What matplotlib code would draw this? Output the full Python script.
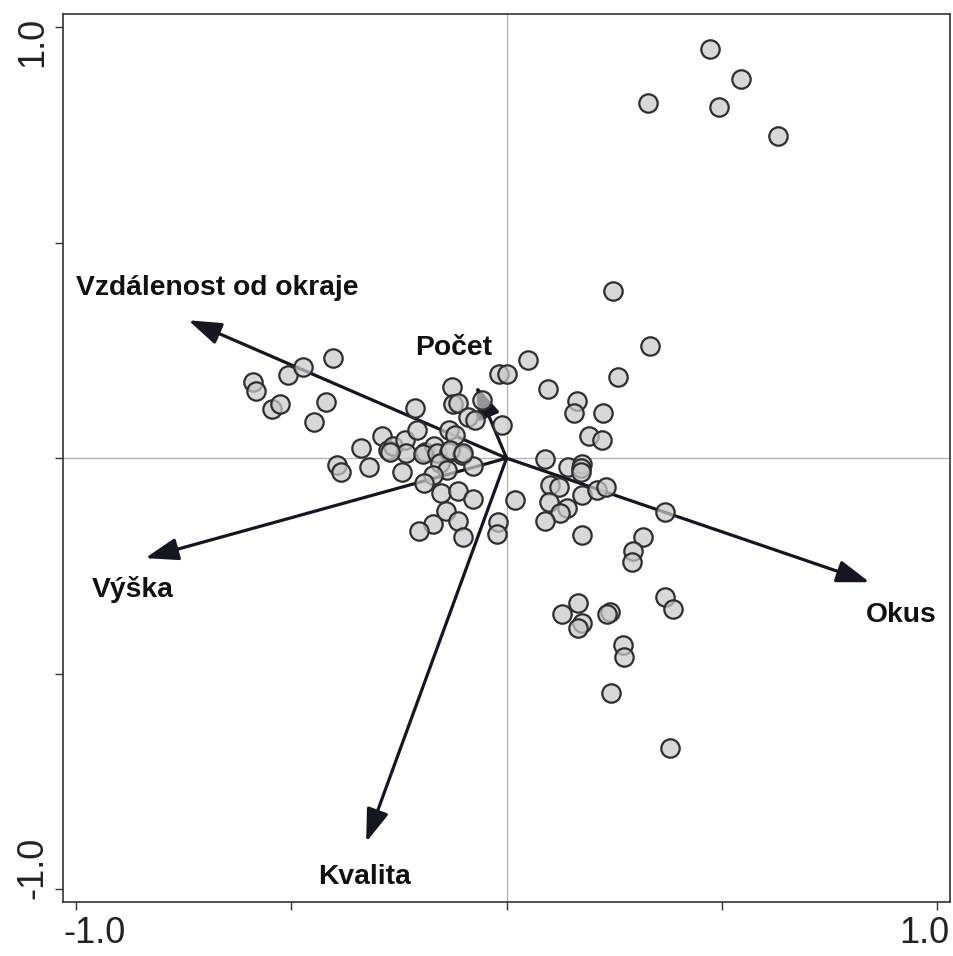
import matplotlib
matplotlib.use("Agg")
import matplotlib.pyplot as plt
from matplotlib.transforms import ScaledTranslation

# ---- data -------------------------------------------------------------
site_x = [-0.403, -0.588, -0.581, -0.507, -0.472, -0.544, -0.526, -0.419, -0.447, -0.393,
          -0.384, -0.319, -0.338, -0.289, -0.275, -0.263, -0.236, -0.233, -0.242, -0.212,
          -0.208, -0.189, -0.168, -0.194, -0.161, -0.133, -0.103, -0.154, -0.138, -0.078,
          -0.171, -0.191, -0.152, -0.113, -0.078, -0.140, -0.171, -0.203, -0.113, -0.101,
          -0.020, -0.022, -0.126, -0.124, -0.113, -0.057, -0.089, -0.073, -0.010, -0.133,
          -0.119, -0.131, -0.101, -0.270, -0.017, 0.001, 0.050, 0.020, 0.096, 0.164,
          0.157, 0.224, 0.191, 0.222, 0.089, 0.143, 0.175, 0.173, 0.173, 0.101,
          0.122, 0.175, 0.210, 0.231, 0.099, 0.140, 0.124, 0.089, 0.175, 0.368,
          0.317, 0.294, 0.291, 0.259, 0.333, 0.247, 0.166, 0.129, 0.175, 0.166,
          0.240, 0.233, 0.368, 0.386, 0.270, 0.273, 0.242, 0.379, 0.472, 0.544,
          0.328, 0.493, 0.630]
site_y = [0.232, 0.176, 0.155, 0.193, 0.211, 0.114, 0.125, 0.130, 0.084, -0.016,
          -0.032, -0.021, 0.023, 0.051, 0.019, 0.028, 0.042, 0.012, -0.032, 0.116,
          0.065, 0.014, 0.028, 0.009, 0.012, 0.014, 0.007, -0.012, -0.028, -0.019,
          -0.039, -0.058, -0.081, -0.077, -0.095, -0.123, -0.153, -0.169, -0.146, -0.183,
          -0.148, -0.176, 0.165, 0.125, 0.128, 0.135, 0.095, 0.088, 0.077, 0.065,
          0.053, 0.019, 0.012, 0.014, 0.195, 0.195, 0.227, -0.097, 0.160, 0.132,
          0.104, 0.104, 0.051, 0.042, -0.002, -0.021, -0.014, -0.023, -0.032, -0.063,
          -0.067, -0.086, -0.074, -0.067, -0.102, -0.116, -0.128, -0.146, -0.179, -0.125,
          -0.183, -0.216, -0.241, 0.188, 0.260, 0.387, -0.336, -0.362, -0.383, -0.394,
          -0.357, -0.362, -0.323, -0.350, -0.434, -0.462, -0.545, -0.673, 0.949, 0.879,
          0.824, 0.814, 0.747]

var_names = ["Vzdálenost od okraje", "Počet", "Výška", "Okus", "Kvalita"]
var_x = [-0.739, -0.071, -0.839, 0.843, -0.326]
var_y = [0.320, 0.169, -0.232, -0.288, -0.891]
label_x = [-0.999, -0.124, -0.962, 0.834, -0.437]
label_y = [0.378, 0.239, -0.322, -0.381, -0.988]
label_ha = ["left", "center", "left", "left", "left"]

ticks = [-1.0, -0.5, 0.0, 0.5, 1.0]
tick_labels = ["-1.0", "", "", "", "1.0"]

# ---- figure -----------------------------------------------------------
plt.rcParams['font.family'] = ['Liberation Sans', 'DejaVu Sans']
fig = plt.figure(figsize=(9.54, 9.56), dpi=100)
ax = fig.add_axes([0.066, 0.0565, 0.930, 0.9285])
ax.set_xlim(-1.03, 1.03)
ax.set_ylim(-1.03, 1.03)

ax.axhline(0, color='#b0b0b0', lw=0.9, zorder=1)
ax.axvline(0, color='#b0b0b0', lw=0.9, zorder=1)

arrow_col = '#15161f'
for vx, vy in zip(var_x, var_y):
    ax.annotate('', xy=(vx, vy), xytext=(0, 0),
                arrowprops=dict(arrowstyle='-|>,head_length=0.5,head_width=0.17',
                                lw=2.3, color=arrow_col, shrinkA=0, shrinkB=0,
                                mutation_scale=40),
                zorder=2)

ax.scatter(site_x, site_y, s=175, facecolors=[(0.79, 0.79, 0.79, 0.72)],
           edgecolors='#2e2e2e', linewidths=1.6, zorder=3)

for name, lx, ly, ha in zip(var_names, label_x, label_y, label_ha):
    ax.text(lx, ly, name, ha=ha, va='baseline', fontsize=20.3, fontweight='bold',
            color='#111111', zorder=4)

ax.set_xticks(ticks)
ax.set_xticklabels(tick_labels)
ax.set_yticks(ticks)
ax.set_yticklabels(tick_labels, rotation=90)
ax.tick_params(axis='both', direction='out', length=6, width=1.0, color='#333333',
               labelsize=26, labelcolor='#222222')
ax.tick_params(axis='x', pad=4)
ax.tick_params(axis='y', pad=3)

for sp in ax.spines.values():
    sp.set_color('#333333')
    sp.set_linewidth(1.2)

# align outer tick labels with the frame edges, as in the reference
xl = ax.get_xticklabels()
xl[0].set_ha('left')
xl[0].set_transform(xl[0].get_transform() + ScaledTranslation(-0.13, 0, fig.dpi_scale_trans))
xl[-1].set_ha('right')
xl[-1].set_transform(xl[-1].get_transform() + ScaledTranslation(0.12, 0, fig.dpi_scale_trans))
yl = ax.get_yticklabels()
yl[0].set_va('bottom')
yl[0].set_transform(yl[0].get_transform() + ScaledTranslation(0, -0.10, fig.dpi_scale_trans))
yl[-1].set_va('top')
yl[-1].set_transform(yl[-1].get_transform() + ScaledTranslation(0, 0.10, fig.dpi_scale_trans))

fig.savefig('out.png', dpi=100, facecolor='white')
